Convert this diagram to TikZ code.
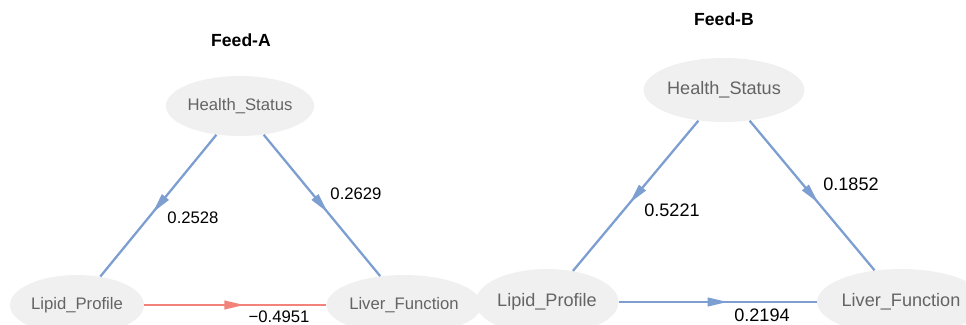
\documentclass[tikz,border=0pt]{standalone}
\usepackage{fontspec}
\setmainfont{Liberation Sans}
\usetikzlibrary{shapes.geometric, arrows.meta, decorations.markings}
\definecolor{pathblue}{RGB}{125,158,208}
\definecolor{pathred}{RGB}{242,130,122}
\definecolor{nodegray}{RGB}{240,240,240}
\definecolor{labelgray}{RGB}{100,100,100}

\tikzset{
  latent/.style={ellipse, fill=nodegray, text=labelgray, inner sep=0pt},
  path/.style={line width=1.3pt, pathblue, postaction={decorate},
    decoration={markings, mark=at position 0.55 with {\arrow{Triangle[length=0.4cm,width=0.17cm]}}}},
  negpath/.style={path, pathred},
  coef/.style={text=black},
  paneltitle/.style={font=\bfseries}
}

\begin{document}
\begin{tikzpicture}
  \useasboundingbox (0,0) rectangle (19.32,6.5);

  % Feed-A
  \begin{scope}[font=\fontsize{9.5}{11}\selectfont]
    \node[paneltitle] (titleA) at (4.82,5.70) {Feed-A};
    \node[latent, minimum width=2.66cm, minimum height=1.2cm] (healthA) at (4.80,4.38) {Health\_Status};
    \node[latent, minimum width=2.68cm, minimum height=1.2cm] (lipidA) at (1.54,0.40) {Lipid\_Profile};
    \node[latent, minimum width=2.68cm, minimum height=1.2cm] (liverA) at (8.08,0.40) {Liver\_Function};
    \draw[path] (healthA) -- (lipidA);
    \draw[path] (healthA) -- (liverA);
    \draw[negpath] (lipidA) -- (liverA);
    \node[coef] (cA1) at (3.86,2.14) {0.2528};
    \node[coef] (cA2) at (7.12,2.62) {0.2629};
    \node[coef] (cA3) at (5.58,0.16) {−0.4951};
  \end{scope}

  % Feed-B
  \begin{scope}[font=\fontsize{10.3}{12}\selectfont]
    \node[paneltitle] (titleB) at (14.48,6.12) {Feed-B};
    \node[latent, minimum width=2.9cm, minimum height=1.28cm] (healthB) at (14.48,4.70) {Health\_Status};
    \node[latent, minimum width=2.86cm, minimum height=1.32cm] (lipidB) at (10.94,0.46) {Lipid\_Profile};
    \node[latent, minimum width=2.9cm, minimum height=1.32cm] (liverB) at (18.02,0.46) {Liver\_Function};
    \draw[path] (healthB) -- (lipidB);
    \draw[path] (healthB) -- (liverB);
    \draw[path] (lipidB) -- (liverB);
    \node[coef] (cB1) at (13.44,2.30) {0.5221};
    \node[coef] (cB2) at (17.02,2.82) {0.1852};
    \node[coef] (cB3) at (15.24,0.20) {0.2194};
  \end{scope}
\end{tikzpicture}
\end{document}
